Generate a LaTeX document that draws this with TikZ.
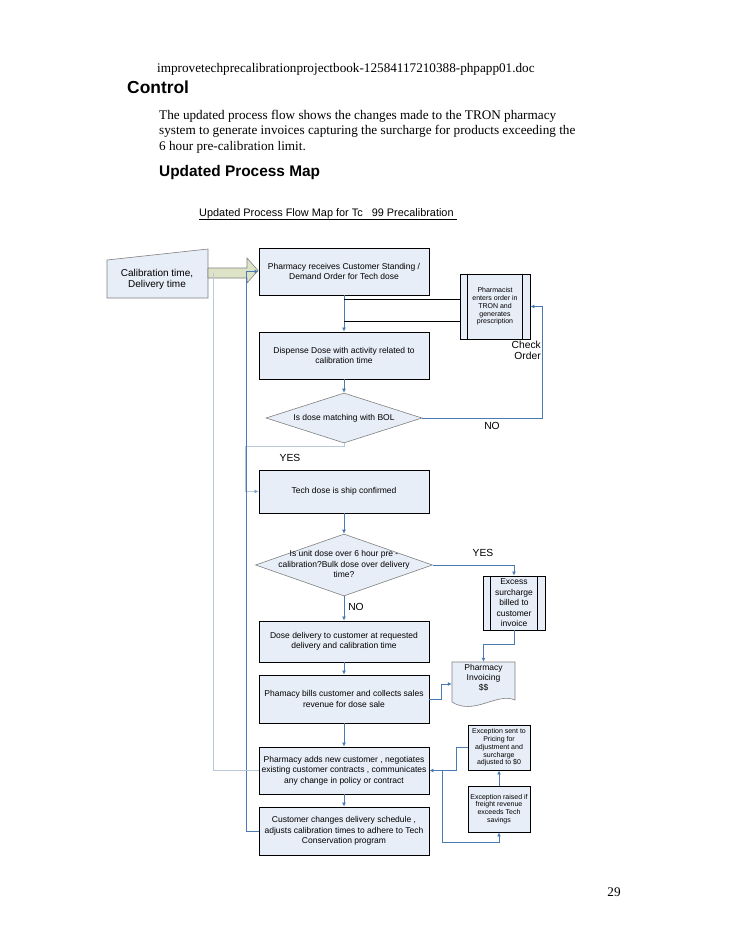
\documentclass[tikz,border=0pt]{standalone}
\usepackage{fontspec}
\setmainfont{Liberation Serif}
\newfontfamily\arial{Liberation Sans}
\usetikzlibrary{shapes.geometric,arrows.meta}

\definecolor{boxfill}{RGB}{232,238,247}
\definecolor{flowblue}{RGB}{74,122,178}
\definecolor{paleblue}{RGB}{186,201,217}
\definecolor{shapegray}{RGB}{128,128,128}
\definecolor{arrowfill}{RGB}{221,227,198}

\newcommand{\boxfont}{\arial\fontsize{8.5pt}{10.5pt}\selectfont}
\newcommand{\smallboxfont}{\arial\fontsize{7pt}{7.8pt}\selectfont}
\newcommand{\lblfont}{\arial\fontsize{10.3pt}{11pt}\selectfont}
\newcommand{\bodyfont}{\fontsize{13.2pt}{16pt}\selectfont}

\tikzset{
  procbox/.style={draw=black, line width=0.9pt, fill=boxfill, minimum width=170pt,
    inner sep=0pt, align=center, font=\boxfont},
  sidebox/.style={draw=black, line width=0.9pt, fill=boxfill, minimum width=62pt,
    inner sep=0pt, align=center, font=\smallboxfont},
  decision/.style={diamond, draw=shapegray, line width=0.6pt, fill=boxfill, inner sep=0pt},
  qtext/.style={font=\boxfont, align=center, inner sep=0pt},
  flow/.style={draw=flowblue, line width=0.8pt, -{Latex[length=4pt,width=4pt]}},
  paleflow/.style={draw=paleblue, line width=0.8pt},
  blackline/.style={draw=black, line width=0.8pt},
  lbl/.style={font=\lblfont, inner sep=0pt},
  textline/.style={anchor=base west, inner sep=0pt}
}

\begin{document}
\begin{tikzpicture}[x=1pt,y=-1pt]
\useasboundingbox[fill=white] (0,0) rectangle (728,942);

% page text
\node[textline, font=\bodyfont] (docname) at (157,72) {improvetechprecalibrationprojectbook-12584117210388-phpapp01.doc};
\node[textline, font=\arial\bfseries\fontsize{17.4pt}{20pt}\selectfont] (control) at (127,93) {Control};
\node[textline, font=\bodyfont] (intro1) at (159,119) {The updated process flow shows the changes made to the TRON pharmacy};
\node[textline, font=\bodyfont] (intro2) at (159,134.5) {system to generate invoices capturing the surcharge for products exceeding the};
\node[textline, font=\bodyfont] (intro3) at (159,150) {6 hour pre-calibration limit.};
\node[textline, font=\arial\bfseries\fontsize{15.4pt}{18pt}\selectfont] (maphead) at (159,176) {Updated Process Map};
\node[textline, font=\arial\fontsize{10.9pt}{13pt}\selectfont] (maptitle) at (199,216) {\underline{Updated Process Flow Map for Tc\ \ \ 99 Precalibration\ }};
\node[anchor=base, inner sep=0pt, font=\bodyfont] (pagenum) at (614,896) {29};

% input and block arrow
\draw[draw=shapegray, line width=0.6pt, fill=boxfill] (107,260) -- (208,249) -- (208,298) -- (107,298) -- cycle;
\node[font=\arial\fontsize{10pt}{11pt}\selectfont, align=center, inner sep=0pt] (calib) at (157,279) {Calibration time,\\Delivery time};
\draw[draw=shapegray, line width=0.6pt, fill=arrowfill] (208,268) -- (247,268) -- (247,258) -- (258,270.5) -- (247,283) -- (247,278) -- (208,278) -- cycle;
\coordinate (calibtap) at (213,273);

% main column
\node[procbox, minimum height=47pt] (order) at (344,271.5) {Pharmacy receives Customer Standing /\\Demand Order for Tech dose};
\node[procbox, minimum height=47pt] (dispense) at (344,355.5) {Dispense Dose with activity related to\\calibration time};
\node[decision, minimum width=156pt, minimum height=50pt] (match) at (344,418) {};
\node[qtext] (matchtxt) at (match) {Is dose matching with BOL};
\node[procbox, minimum height=43pt] (tech) at (344,491.5) {Tech dose is ship confirmed};
\node[decision, minimum width=177pt, minimum height=62pt] (ship) at (344,565) {};
\node[qtext] (shiptxt) at (344,564) {Is unit dose over 6 hour pre -\\calibration?Bulk dose over delivery\\time?};
\node[procbox, minimum height=41pt] (dose) at (344,641.5) {Dose delivery to customer at requested\\delivery and calibration time};
\node[procbox, minimum height=48pt] (bills) at (344,699) {Phamacy bills customer and collects sales\\revenue for dose sale};
\node[procbox, minimum height=47pt] (adds) at (344,770.5) {Pharmacy adds new customer , negotiates\\existing customer contracts , communicates\\any change in policy or contract};
\node[procbox, minimum height=48pt] (changes) at (344,831) {Customer changes delivery schedule ,\\adjusts calibration times to adhere to Tech\\Conservation program};

% right column
\node[sidebox, minimum width=70pt, minimum height=65pt] (pharm) at (495,306.5) {Pharmacist\\enters order in\\TRON and\\generates\\prescription};
\node[sidebox, minimum height=54pt, font=\arial\fontsize{8.5pt}{10.5pt}\selectfont] (excess) at (514,603) {Excess\\surcharge\\billed to\\customer\\invoice};
\foreach \n in {pharm,excess}
  \draw[blackline] ([xshift=8pt]\n.north west) -- ([xshift=8pt]\n.south west)
    ([xshift=-8pt]\n.north east) -- ([xshift=-8pt]\n.south east);
\draw[draw=shapegray, line width=0.6pt, fill=boxfill] (452,662) -- (515,662) -- (515,700) .. controls (497,692) and (474,716) .. (452,702) -- cycle;
\node[font=\arial\fontsize{8.5pt}{10pt}\selectfont, align=center, minimum width=63pt, minimum height=32pt, inner sep=0pt] (invoice) at (483.5,678) {Pharmacy\\Invoicing\\\$\$};
\node[sidebox, minimum height=45pt] (sent) at (499,747.5) {Exception sent to\\Pricing for\\adjustment and\\surcharge\\adjusted to \$0};
\node[sidebox, minimum height=46pt] (raised) at (499,809) {Exception raised if\\freight revenue\\exceeds Tech\\savings};

% labels
\node[lbl, align=right, anchor=north east] (checklbl) at (541,341) {Check\\Order};
\node[lbl] (nolbl) at (492,426) {NO};
\node[lbl] (yeslbl) at (290,458) {YES};
\node[lbl] (yes2lbl) at (483,553) {YES};
\node[lbl] (no2lbl) at (356,607) {NO};

% connectors
\draw[flow] (order.south) -- (dispense.north);
\draw[blackline] ([yshift=-4pt]order.south) -- ([yshift=-4pt]order.south -| pharm.west)
  ([yshift=10pt]dispense.north) -- ([yshift=10pt]dispense.north -| pharm.west);
\draw[flow] (dispense.south) -- (match.north);
\draw[flow] (match.east) -- ++(120,0) |- (pharm.east);
\draw[paleflow, -{Latex[length=4pt,width=4pt,color=flowblue!70]}] (match.south) -- ++(0,3) -- ++(-99,0) |- (tech.west);
\draw[flow] (tech.south) -- (ship.north);
\draw[flow] (ship.east) -| (excess.north);
\draw[flow] (ship.south) -- (dose.north);
\draw[flow] (excess.south) -- ++(0,14) -| (invoice.north);
\draw[flow] (dose.south) -- (bills.north);
\draw[flow] (bills.east) -- ++(12,0) |- ([yshift=-6pt]invoice.west);
\draw[flow] (bills.south) -- (adds.north);
\draw[flow] (adds.south) -- (changes.north);
\draw[flow] (sent.west) -- ++(-11,0) |- (adds.east);
\draw[flow] ([xshift=13pt]adds.east) -- ++(0,72) -| (raised.south);
\draw[flow] (raised.north) -- (sent.south);
\draw[flow] (changes.west) -- ++(-12,0) |- (order.west);
\draw[paleflow] (calibtap) |- (adds.west);
\end{tikzpicture}
\end{document}
